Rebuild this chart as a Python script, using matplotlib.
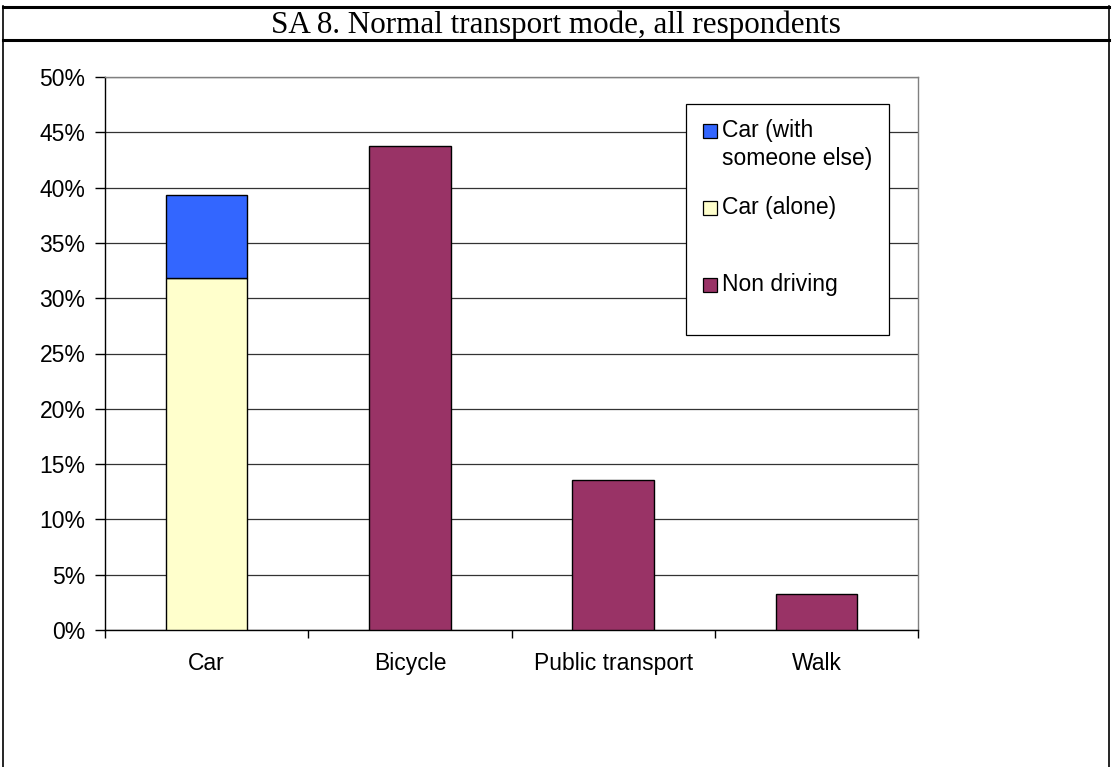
import matplotlib
matplotlib.use("Agg")
import matplotlib.pyplot as plt
from matplotlib.patches import Rectangle
from matplotlib.lines import Line2D
import numpy as np

categories = ["Car", "Bicycle", "Public transport", "Walk"]
car_alone = [31.8, 0, 0, 0]
car_with = [7.5, 0, 0, 0]
non_driving = [0, 43.8, 13.6, 3.3]
yticks = [0, 5, 10, 15, 20, 25, 30, 35, 40, 45, 50]
title = "SA 8. Normal transport mode, all respondents"
legend_labels = ["Car (with\nsomeone else)", "Car (alone)", "Non driving"]

c_with = "#3366FF"
c_alone = "#FFFFCC"
c_non = "#993366"
legend_colors = [c_with, c_alone, c_non]

FS = 16.5
W, H = 1112, 767
AX_L, AX_R, AX_T, AX_B = 105, 918, 77, 630
fig = plt.figure(figsize=(W/100, H/100), dpi=100)
ax = fig.add_axes([AX_L/W, 1-AX_B/H, (AX_R-AX_L)/W, (AX_B-AX_T)/H])

x = np.arange(len(categories))
w = 0.4
ax.bar(x[:1], car_alone[:1], w, color=c_alone, edgecolor="black", linewidth=1, zorder=3)
ax.bar(x[:1], car_with[:1], w, bottom=car_alone[:1], color=c_with, edgecolor="black", linewidth=1, zorder=3)
ax.bar(x[1:], non_driving[1:], w, color=c_non, edgecolor="black", linewidth=1, zorder=3)

ax.set_xlim(-0.5, len(categories) - 0.5)
ax.set_ylim(0, 50)
ax.set_yticks(yticks)
ax.set_yticklabels([f"{v}%" for v in yticks], fontfamily="Liberation Sans", fontsize=FS)
ax.set_xticks(np.arange(-0.5, len(categories)))
ax.set_xticklabels([])
ax.set_xticks(x, minor=True)
ax.set_xticklabels(categories, minor=True, fontfamily="Liberation Sans", fontsize=FS)
ax.tick_params(axis="x", which="minor", length=0, pad=16)
ax.tick_params(axis="x", which="major", length=6, width=1, direction="out", color="black")
ax.tick_params(axis="y", length=7, width=1, direction="out", pad=7)
ax.yaxis.grid(True, color="#333333", linewidth=0.9, zorder=0)
ax.set_axisbelow(True)
for s in ["left", "bottom"]:
    ax.spines[s].set_color("black")
    ax.spines[s].set_linewidth(1.0)
for s in ["top", "right"]:
    ax.spines[s].set_color("#808080")
    ax.spines[s].set_linewidth(1.0)

# legend box (drawn in axes-fraction coordinates)
def ax_frac(px, py):
    return (px - AX_L) / (AX_R - AX_L), (AX_B - py) / (AX_B - AX_T)

def ax_size(pw, ph):
    return pw / (AX_R - AX_L), ph / (AX_B - AX_T)

fx, fy = ax_frac(686, 335)
fw, fh = ax_size(889 - 686, 335 - 104)
ax.add_patch(Rectangle((fx, fy), fw, fh, transform=ax.transAxes, facecolor="white",
                       edgecolor="black", linewidth=0.9, zorder=10, clip_on=False))
entry_y = [131, 208, 285]
for lab, col, ey in zip(legend_labels, legend_colors, entry_y):
    sx, sy = ax_frac(703, ey + 7)
    sw, sh = ax_size(14, 14)
    ax.add_patch(Rectangle((sx, sy), sw, sh, transform=ax.transAxes, facecolor=col,
                           edgecolor="black", linewidth=0.9, zorder=11, clip_on=False))
    tx, ty = ax_frac(722, ey - 12)
    ax.text(tx, ty, lab, transform=ax.transAxes, ha="left", va="top",
            fontfamily="Liberation Sans", fontsize=FS, linespacing=1.3, zorder=12)

# outer table-like frame
fig.add_artist(Line2D([0.0027, 0.9973], [1-7/H, 1-7/H], color="black", lw=2.2, transform=fig.transFigure))
fig.add_artist(Line2D([0.0027, 0.9973], [1-40/H, 1-40/H], color="black", lw=2.2, transform=fig.transFigure))
fig.add_artist(Line2D([3/W, 3/W], [0, 1-6/H], color="black", lw=1.2, transform=fig.transFigure))
fig.add_artist(Line2D([1109/W, 1109/W], [0, 1-6/H], color="black", lw=1.2, transform=fig.transFigure))
fig.text(556/W, 1-25/H, title, ha="center", va="center",
         fontfamily="Liberation Serif", fontsize=22.4)

fig.savefig("out.png", dpi=100)
